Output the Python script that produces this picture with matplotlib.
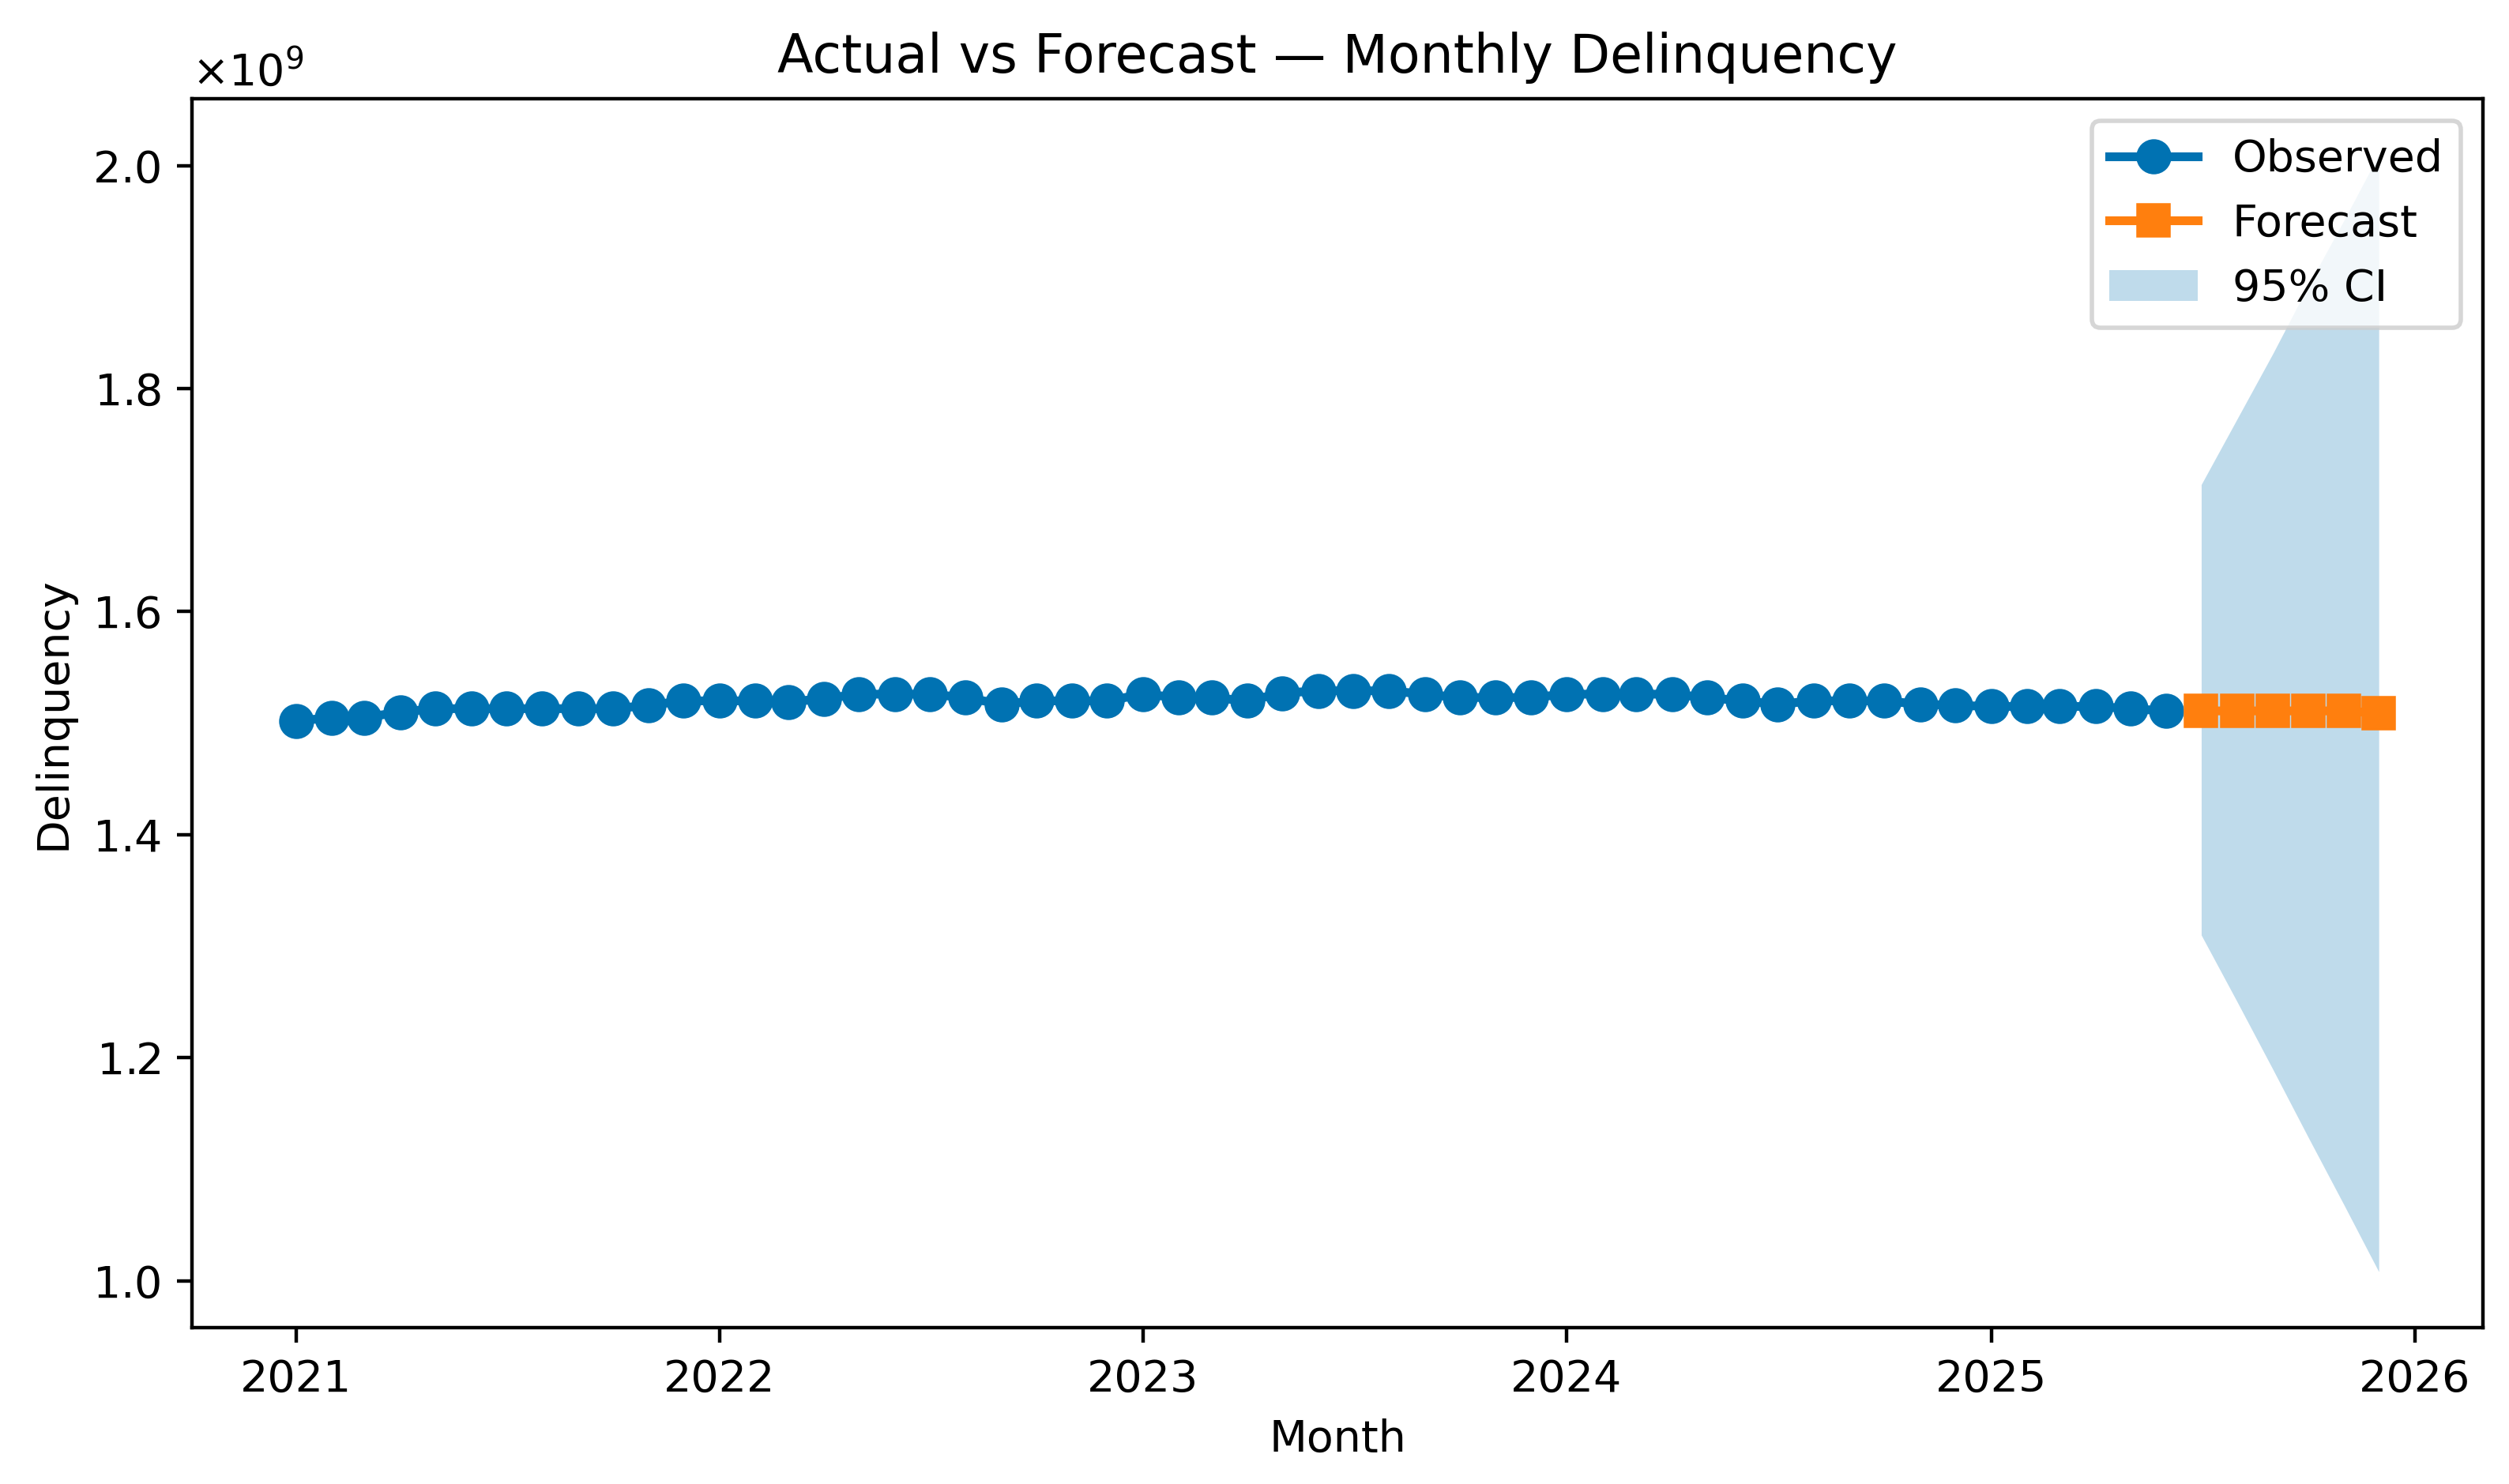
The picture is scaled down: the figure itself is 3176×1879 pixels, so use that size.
# Actual vs Forecast chart for monthly delinquency
# observed series + 6-month forecast with 95% CI band

import pandas as pd
import matplotlib
matplotlib.use('Agg')
import matplotlib.pyplot as plt

# observed months Jan 2021 .. Jun 2025
obs_months = pd.date_range('2021-01-01', '2025-06-01', freq='MS')
obs_values = [
    1.502, 1.505, 1.505, 1.510, 1.513, 1.513, 1.513, 1.513, 1.513, 1.513,
    1.516, 1.520, 1.520, 1.520, 1.519, 1.522, 1.526, 1.526, 1.526, 1.523,
    1.517, 1.520, 1.520, 1.520, 1.526, 1.523, 1.523, 1.520, 1.527, 1.529,
    1.529, 1.529, 1.526, 1.523, 1.523, 1.523, 1.526, 1.526, 1.526, 1.526,
    1.523, 1.520, 1.517, 1.520, 1.520, 1.520, 1.517, 1.516, 1.515, 1.515,
    1.515, 1.515, 1.513, 1.511,
]

# forecast months Jul 2025 .. Dec 2025
fc_months = pd.date_range('2025-07-01', '2025-12-01', freq='MS')
fc_values = [1.511, 1.511, 1.511, 1.511, 1.511, 1.509]
ci_lower = [1.310, 1.250, 1.189, 1.129, 1.068, 1.008]
ci_upper = [1.714, 1.773, 1.832, 1.892, 1.951, 2.010]

SCALE = 1e9
BLUE = '#0072B2'
ORANGE = '#FF7F0E'


def main():
    fig, ax = plt.subplots(figsize=(7.94, 4.6975))
    fig.subplots_adjust(left=0.0765, right=0.9896, bottom=0.1054, top=0.9335)

    ax.plot(obs_months, [v * SCALE for v in obs_values],
            color=BLUE, marker='o', markersize=7, linewidth=2,
            label='Observed')
    ax.plot(fc_months, [v * SCALE for v in fc_values],
            color=ORANGE, marker='s', markersize=7, linewidth=2,
            label='Forecast')
    ax.fill_between(fc_months,
                    [v * SCALE for v in ci_lower],
                    [v * SCALE for v in ci_upper],
                    color=BLUE, alpha=0.25, linewidth=0,
                    label='95% CI')

    ax.ticklabel_format(axis='y', style='sci', scilimits=(0, 0),
                        useMathText=True)
    ax.set_title('Actual vs Forecast \u2014 Monthly Delinquency')
    ax.set_xlabel('Month')
    ax.set_ylabel('Delinquency')
    ax.legend(loc='upper right')

    plt.savefig('out.png', dpi=400)
    plt.close()


if __name__ == "__main__":
    main()
